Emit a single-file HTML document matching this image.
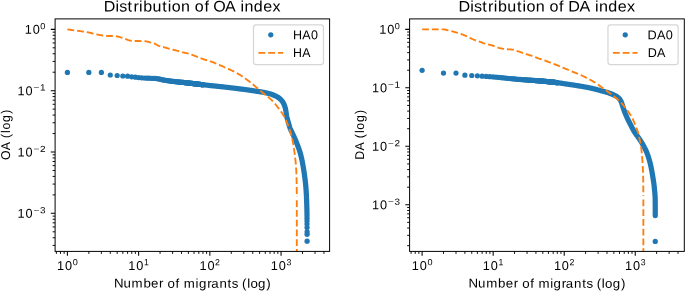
<!DOCTYPE html>
<html><head><meta charset="utf-8"><title>Distribution of OA and DA index</title>
<style>
html,body{margin:0;padding:0;background:#fff;}
body{width:685px;height:291px;overflow:hidden;font-family:"Liberation Sans",sans-serif;}
svg{display:block;will-change:transform;}
svg text{font-family:"Liberation Sans",sans-serif;fill:#000;text-rendering:geometricPrecision;}
</style></head><body>
<svg width="685" height="291" viewBox="0 0 685 291">
<rect width="685" height="291" fill="#fff"/>
<g>
<clipPath id="cp0"><rect x="55.10" y="18.90" width="274.50" height="232.50"/></clipPath>
<path d="M67.40 251.40v4.32M138.62 251.40v4.32M209.84 251.40v4.32M281.06 251.40v4.32M55.10 213.34h-4.32M55.10 152.01h-4.32M55.10 90.68h-4.32M55.10 29.35h-4.32" stroke="#000" stroke-width="1.05" fill="none"/>
<path d="M56.37 251.40v2.47M60.50 251.40v2.47M64.14 251.40v2.47M88.84 251.40v2.47M101.38 251.40v2.47M110.28 251.40v2.47M117.18 251.40v2.47M122.82 251.40v2.47M127.59 251.40v2.47M131.72 251.40v2.47M135.36 251.40v2.47M160.06 251.40v2.47M172.60 251.40v2.47M181.50 251.40v2.47M188.40 251.40v2.47M194.04 251.40v2.47M198.81 251.40v2.47M202.94 251.40v2.47M206.58 251.40v2.47M231.28 251.40v2.47M243.82 251.40v2.47M252.72 251.40v2.47M259.62 251.40v2.47M265.26 251.40v2.47M270.03 251.40v2.47M274.16 251.40v2.47M277.80 251.40v2.47M302.50 251.40v2.47M315.04 251.40v2.47M323.94 251.40v2.47M55.10 245.41h-2.47M55.10 237.75h-2.47M55.10 231.80h-2.47M55.10 226.95h-2.47M55.10 222.84h-2.47M55.10 219.28h-2.47M55.10 216.15h-2.47M55.10 194.88h-2.47M55.10 184.08h-2.47M55.10 176.42h-2.47M55.10 170.47h-2.47M55.10 165.62h-2.47M55.10 161.51h-2.47M55.10 157.95h-2.47M55.10 154.82h-2.47M55.10 133.55h-2.47M55.10 122.75h-2.47M55.10 115.09h-2.47M55.10 109.14h-2.47M55.10 104.29h-2.47M55.10 100.18h-2.47M55.10 96.62h-2.47M55.10 93.49h-2.47M55.10 72.22h-2.47M55.10 61.42h-2.47M55.10 53.76h-2.47M55.10 47.81h-2.47M55.10 42.96h-2.47M55.10 38.85h-2.47M55.10 35.29h-2.47M55.10 32.16h-2.47" stroke="#000" stroke-width="0.95" fill="none"/>
<g clip-path="url(#cp0)">
<circle cx="67.40" cy="72.40" r="2.62" fill="#1f77b4"/>
<circle cx="88.84" cy="72.40" r="2.62" fill="#1f77b4"/>
<circle cx="101.38" cy="72.40" r="2.62" fill="#1f77b4"/>
<circle cx="110.28" cy="75.00" r="2.62" fill="#1f77b4"/>
<circle cx="117.18" cy="75.50" r="2.62" fill="#1f77b4"/>
<circle cx="122.82" cy="76.00" r="2.62" fill="#1f77b4"/>
<circle cx="127.59" cy="76.20" r="2.62" fill="#1f77b4"/>
<circle cx="131.72" cy="76.80" r="2.62" fill="#1f77b4"/>
<circle cx="135.36" cy="77.20" r="2.62" fill="#1f77b4"/>
<circle cx="138.62" cy="77.57" r="2.62" fill="#1f77b4"/>
<circle cx="141.57" cy="77.83" r="2.62" fill="#1f77b4"/>
<circle cx="144.26" cy="78.00" r="2.62" fill="#1f77b4"/>
<circle cx="146.74" cy="78.14" r="2.62" fill="#1f77b4"/>
<circle cx="149.03" cy="78.24" r="2.62" fill="#1f77b4"/>
<circle cx="151.16" cy="78.31" r="2.62" fill="#1f77b4"/>
<circle cx="153.16" cy="78.37" r="2.62" fill="#1f77b4"/>
<circle cx="155.03" cy="78.46" r="2.62" fill="#1f77b4"/>
<circle cx="156.80" cy="78.62" r="2.62" fill="#1f77b4"/>
<circle cx="158.47" cy="78.90" r="2.62" fill="#1f77b4"/>
<circle cx="160.06" cy="79.23" r="2.62" fill="#1f77b4"/>
<circle cx="161.57" cy="79.60" r="2.62" fill="#1f77b4"/>
<circle cx="163.01" cy="79.89" r="2.62" fill="#1f77b4"/>
<circle cx="164.38" cy="80.13" r="2.62" fill="#1f77b4"/>
<circle cx="165.70" cy="80.35" r="2.62" fill="#1f77b4"/>
<circle cx="166.96" cy="80.55" r="2.62" fill="#1f77b4"/>
<circle cx="168.17" cy="80.74" r="2.62" fill="#1f77b4"/>
<circle cx="169.34" cy="80.91" r="2.62" fill="#1f77b4"/>
<circle cx="170.47" cy="81.06" r="2.62" fill="#1f77b4"/>
<circle cx="171.55" cy="81.20" r="2.62" fill="#1f77b4"/>
<circle cx="172.60" cy="81.32" r="2.62" fill="#1f77b4"/>
<circle cx="173.61" cy="81.44" r="2.62" fill="#1f77b4"/>
<circle cx="174.60" cy="81.55" r="2.62" fill="#1f77b4"/>
<circle cx="175.55" cy="81.65" r="2.62" fill="#1f77b4"/>
<circle cx="176.47" cy="81.75" r="2.62" fill="#1f77b4"/>
<circle cx="177.37" cy="81.84" r="2.62" fill="#1f77b4"/>
<circle cx="178.24" cy="81.93" r="2.62" fill="#1f77b4"/>
<circle cx="179.09" cy="82.02" r="2.62" fill="#1f77b4"/>
<circle cx="179.91" cy="82.10" r="2.62" fill="#1f77b4"/>
<circle cx="180.72" cy="82.18" r="2.62" fill="#1f77b4"/>
<circle cx="181.50" cy="82.26" r="2.62" fill="#1f77b4"/>
<circle cx="182.26" cy="82.34" r="2.62" fill="#1f77b4"/>
<circle cx="183.01" cy="82.42" r="2.62" fill="#1f77b4"/>
<circle cx="183.74" cy="82.50" r="2.62" fill="#1f77b4"/>
<circle cx="184.45" cy="82.57" r="2.62" fill="#1f77b4"/>
<circle cx="185.14" cy="82.65" r="2.62" fill="#1f77b4"/>
<circle cx="185.82" cy="82.73" r="2.62" fill="#1f77b4"/>
<circle cx="186.49" cy="82.80" r="2.62" fill="#1f77b4"/>
<circle cx="187.14" cy="82.87" r="2.62" fill="#1f77b4"/>
<circle cx="187.78" cy="82.95" r="2.62" fill="#1f77b4"/>
<circle cx="188.40" cy="83.02" r="2.62" fill="#1f77b4"/>
<circle cx="189.01" cy="83.09" r="2.62" fill="#1f77b4"/>
<circle cx="189.61" cy="83.16" r="2.62" fill="#1f77b4"/>
<circle cx="190.20" cy="83.23" r="2.62" fill="#1f77b4"/>
<circle cx="190.78" cy="83.30" r="2.62" fill="#1f77b4"/>
<circle cx="191.35" cy="83.36" r="2.62" fill="#1f77b4"/>
<circle cx="191.91" cy="83.43" r="2.62" fill="#1f77b4"/>
<circle cx="192.45" cy="83.49" r="2.62" fill="#1f77b4"/>
<circle cx="192.99" cy="83.56" r="2.62" fill="#1f77b4"/>
<circle cx="193.52" cy="83.62" r="2.62" fill="#1f77b4"/>
<circle cx="194.04" cy="83.68" r="2.62" fill="#1f77b4"/>
<circle cx="194.55" cy="83.74" r="2.62" fill="#1f77b4"/>
<circle cx="195.05" cy="83.80" r="2.62" fill="#1f77b4"/>
<circle cx="195.55" cy="83.86" r="2.62" fill="#1f77b4"/>
<circle cx="196.04" cy="83.92" r="2.62" fill="#1f77b4"/>
<circle cx="196.52" cy="83.98" r="2.62" fill="#1f77b4"/>
<circle cx="196.99" cy="84.03" r="2.62" fill="#1f77b4"/>
<circle cx="197.45" cy="84.09" r="2.62" fill="#1f77b4"/>
<circle cx="197.91" cy="84.14" r="2.62" fill="#1f77b4"/>
<circle cx="198.36" cy="84.20" r="2.62" fill="#1f77b4"/>
<circle cx="198.81" cy="84.25" r="2.62" fill="#1f77b4"/>
<circle cx="199.25" cy="84.30" r="2.62" fill="#1f77b4"/>
<circle cx="199.68" cy="84.35" r="2.62" fill="#1f77b4"/>
<circle cx="200.11" cy="84.40" r="2.62" fill="#1f77b4"/>
<circle cx="200.53" cy="84.45" r="2.62" fill="#1f77b4"/>
<circle cx="200.94" cy="84.50" r="2.62" fill="#1f77b4"/>
<circle cx="201.35" cy="84.55" r="2.62" fill="#1f77b4"/>
<circle cx="201.76" cy="84.59" r="2.62" fill="#1f77b4"/>
<circle cx="202.15" cy="84.64" r="2.62" fill="#1f77b4"/>
<circle cx="202.55" cy="84.69" r="2.62" fill="#1f77b4"/>
<circle cx="202.94" cy="84.73" r="2.62" fill="#1f77b4"/>
<path d="M181.86 82.30 L182.55 82.37 L183.25 82.44 L183.95 82.52 L184.64 82.59 L185.34 82.67 L186.03 82.75 L186.73 82.83 L187.42 82.91 L188.12 82.99 L188.81 83.07 L189.51 83.15 L190.21 83.23 L190.90 83.31 L191.60 83.39 L192.29 83.47 L192.99 83.56 L193.68 83.64 L194.38 83.72 L195.07 83.80 L195.77 83.89 L196.46 83.97 L197.16 84.05 L197.85 84.14 L198.55 84.22 L199.24 84.30 L199.94 84.38 L200.63 84.46 L201.33 84.54 L202.02 84.62 L202.72 84.71 L203.41 84.79 L204.11 84.86 L204.81 84.94 L205.50 85.02 L206.20 85.10 L206.89 85.18 L207.59 85.25 L208.28 85.33 L208.98 85.40 L209.68 85.48 L210.37 85.55 L211.07 85.62 L211.76 85.70 L212.46 85.77 L213.16 85.84 L213.85 85.91 L214.55 85.98 L215.25 86.05 L215.94 86.13 L216.64 86.20 L217.34 86.27 L218.03 86.34 L218.73 86.41 L219.42 86.49 L220.12 86.56 L220.82 86.63 L221.51 86.71 L222.21 86.78 L222.90 86.85 L223.60 86.93 L224.30 87.01 L224.99 87.08 L225.69 87.16 L226.38 87.24 L227.08 87.32 L227.77 87.40 L228.47 87.49 L229.16 87.57 L229.86 87.65 L230.55 87.74 L231.25 87.83 L231.94 87.92 L232.64 88.00 L233.33 88.09 L234.03 88.18 L234.72 88.27 L235.42 88.35 L236.11 88.44 L236.80 88.52 L237.50 88.61 L238.19 88.69 L238.89 88.78 L239.58 88.87 L240.28 88.95 L240.97 89.04 L241.67 89.13 L242.36 89.21 L243.06 89.30 L243.75 89.39 L244.44 89.49 L245.14 89.58 L245.83 89.67 L246.53 89.77 L247.22 89.86 L247.91 89.96 L248.60 90.06 L249.30 90.16 L249.99 90.26 L250.68 90.36 L251.38 90.46 L252.07 90.56 L252.76 90.67 L253.45 90.77 L254.15 90.88 L254.84 90.98 L255.53 91.09 L256.22 91.20 L256.91 91.30 L257.61 91.40 L258.30 91.50 L259.00 91.61 L259.69 91.71 L260.38 91.82 L261.08 91.92 L261.77 92.03 L262.46 92.15 L263.15 92.27 L263.84 92.39 L264.52 92.52 L265.21 92.65 L265.89 92.80 L266.57 92.95 L267.25 93.11 L267.93 93.28 L268.61 93.46 L269.29 93.65 L269.97 93.85 L270.64 94.06 L271.31 94.28 L271.97 94.51 L272.62 94.74 L273.27 94.99 L273.92 95.25 L274.57 95.52 L275.22 95.81 L275.87 96.12 L276.50 96.44 L277.13 96.78 L277.73 97.14 L278.31 97.51 L278.87 97.90 L279.40 98.31 L279.93 98.76 L280.46 99.24 L280.97 99.75 L281.46 100.28 L281.93 100.83 L282.37 101.40 L282.76 101.97 L283.12 102.55 L283.43 103.14 L283.73 103.76 L284.02 104.39 L284.28 105.05 L284.53 105.71 L284.77 106.39 L284.98 107.07 L285.18 107.75 L285.36 108.44 L285.53 109.11 L285.67 109.79 L285.80 110.48 L285.92 111.17 L286.02 111.86 L286.12 112.55 L286.22 113.25 L286.33 113.95 L286.44 114.64 L286.55 115.33 L286.68 116.02 L286.83 116.70 L286.98 117.38 L287.15 118.06 L287.32 118.74 L287.50 119.42 L287.68 120.10 L287.87 120.77 L288.06 121.45 L288.25 122.12 L288.44 122.79 L288.63 123.47 L288.82 124.14 L289.01 124.82 L289.21 125.49 L289.41 126.17 L289.62 126.83 L289.84 127.50 L290.07 128.15 L290.32 128.80 L290.60 129.44 L290.90 130.08 L291.22 130.70 L291.53 131.33 L291.83 131.96 L292.13 132.60 L292.42 133.23 L292.72 133.87 L293.01 134.50 L293.31 135.14 L293.60 135.78 L293.89 136.41 L294.18 137.05 L294.46 137.69 L294.74 138.33 L295.02 138.97 L295.29 139.62 L295.56 140.26 L295.84 140.91 L296.10 141.56 L296.37 142.20 L296.63 142.85 L296.89 143.50 L297.15 144.15 L297.40 144.81 L297.65 145.46 L297.89 146.12 L298.14 146.77 L298.38 147.43 L298.63 148.09 L298.86 148.75 L299.10 149.41 L299.33 150.07 L299.55 150.73 L299.77 151.40 L299.97 152.07 L300.17 152.74 L300.36 153.41 L300.54 154.08 L300.72 154.76 L300.90 155.44 L301.07 156.12 L301.23 156.80 L301.39 157.48 L301.55 158.16 L301.70 158.85 L301.85 159.53 L301.99 160.22 L302.13 160.90 L302.27 161.59 L302.40 162.28 L302.53 162.96 L302.66 163.65 L302.78 164.34 L302.91 165.03 L303.03 165.72 L303.15 166.41 L303.27 167.10 L303.38 167.79 L303.50 168.48 L303.61 169.17 L303.73 169.86 L303.84 170.55 L303.94 171.25 L304.05 171.94 L304.15 172.63 L304.25 173.32 L304.34 174.02 L304.44 174.71 L304.53 175.40 L304.63 176.10 L304.72 176.79 L304.81 177.49 L304.90 178.18 L304.99 178.88 L305.08 179.57 L305.17 180.27 L305.25 180.96 L305.33 181.66 L305.41 182.35 L305.49 183.05 L305.56 183.74 L305.63 184.44 L305.70 185.14 L305.76 185.83 L305.82 186.53 L305.88 187.23 L305.93 187.93 L305.98 188.62 L306.03 189.32 L306.08 190.02 L306.13 190.72 L306.17 191.42 L306.22 192.11 L306.26 192.81 L306.30 193.51 L306.34 194.21 L306.38 194.91 L306.41 195.61 L306.45 196.31 L306.48 197.01 L306.51 197.71 L306.54 198.41 L306.57 199.11 L306.59 199.81 L306.62 200.51 L306.64 201.21 L306.67 201.91 L306.69 202.61 L306.71 203.31 L306.74 204.00 L306.76 204.70 L306.78 205.40 L306.80 206.10 L306.82 206.80 L306.84 207.50 L306.86 208.20 L306.88 208.90 L306.90 209.60 L306.91 210.30 L306.93 211.00 L306.94 211.70 L306.95 212.40 L306.97 213.10 L306.98 213.80 L306.99 214.50 L306.99 215.20 L307.00 215.90 L307.00 216.00" stroke="#1f77b4" stroke-width="5.24" fill="none" stroke-linecap="round" stroke-linejoin="round"/>
<circle cx="307.00" cy="218.50" r="2.62" fill="#1f77b4"/>
<circle cx="307.00" cy="221.00" r="2.62" fill="#1f77b4"/>
<circle cx="307.00" cy="224.00" r="2.62" fill="#1f77b4"/>
<circle cx="307.05" cy="227.60" r="2.62" fill="#1f77b4"/>
<circle cx="307.10" cy="231.80" r="2.62" fill="#1f77b4"/>
<circle cx="307.10" cy="234.30" r="2.62" fill="#1f77b4"/>
<circle cx="307.10" cy="241.20" r="2.62" fill="#1f77b4"/>
<path d="M67.40 29.40 L68.09 29.50 L68.79 29.59 L69.48 29.69 L70.17 29.78 L70.87 29.88 L71.56 29.98 L72.25 30.07 L72.95 30.17 L73.64 30.26 L74.33 30.36 L75.03 30.45 L75.72 30.55 L76.42 30.64 L77.11 30.73 L77.80 30.82 L78.50 30.92 L79.19 31.01 L79.88 31.10 L80.58 31.20 L81.27 31.30 L81.96 31.39 L82.66 31.49 L83.35 31.60 L84.04 31.70 L84.73 31.81 L85.43 31.92 L86.12 32.03 L86.81 32.14 L87.50 32.26 L88.19 32.38 L88.87 32.51 L89.56 32.66 L90.24 32.81 L90.92 32.98 L91.60 33.14 L92.28 33.31 L92.96 33.48 L93.64 33.63 L94.33 33.79 L95.01 33.95 L95.69 34.12 L96.37 34.28 L97.05 34.44 L97.74 34.60 L98.42 34.76 L99.11 34.90 L99.79 35.04 L100.48 35.17 L101.17 35.28 L101.86 35.38 L102.55 35.49 L103.24 35.59 L103.94 35.68 L104.64 35.76 L105.33 35.83 L106.03 35.88 L106.73 35.91 L107.43 35.94 L108.13 35.96 L108.83 35.97 L109.53 35.99 L110.23 36.00 L110.93 36.01 L111.63 36.02 L112.33 36.03 L113.03 36.05 L113.73 36.07 L114.43 36.12 L115.13 36.17 L115.83 36.24 L116.52 36.32 L117.21 36.42 L117.89 36.55 L118.57 36.74 L119.25 36.94 L119.92 37.13 L120.59 37.33 L121.26 37.52 L121.93 37.73 L122.60 37.94 L123.27 38.15 L123.93 38.37 L124.60 38.59 L125.26 38.82 L125.91 39.07 L126.56 39.34 L127.20 39.63 L127.84 39.90 L128.50 40.15 L129.16 40.37 L129.84 40.52 L130.53 40.64 L131.23 40.75 L131.92 40.82 L132.62 40.89 L133.32 40.95 L134.02 40.99 L134.72 41.00 L135.42 41.01 L136.12 41.02 L136.82 41.02 L137.52 41.03 L138.22 41.03 L138.92 41.03 L139.62 41.04 L140.32 41.05 L141.02 41.06 L141.72 41.07 L142.42 41.10 L143.13 41.13 L143.83 41.16 L144.53 41.21 L145.22 41.25 L145.91 41.31 L146.59 41.41 L147.27 41.56 L147.95 41.75 L148.62 41.96 L149.30 42.17 L149.97 42.38 L150.65 42.56 L151.33 42.73 L152.02 42.90 L152.70 43.07 L153.38 43.25 L154.05 43.45 L154.70 43.67 L155.33 43.96 L155.94 44.30 L156.55 44.67 L157.16 45.04 L157.77 45.39 L158.40 45.68 L159.05 45.92 L159.71 46.12 L160.39 46.29 L161.07 46.46 L161.76 46.62 L162.44 46.78 L163.12 46.95 L163.80 47.14 L164.47 47.34 L165.14 47.54 L165.81 47.75 L166.48 47.95 L167.15 48.16 L167.82 48.35 L168.49 48.54 L169.17 48.72 L169.85 48.90 L170.53 49.07 L171.20 49.25 L171.88 49.42 L172.56 49.59 L173.24 49.76 L173.92 49.92 L174.60 50.08 L175.28 50.25 L175.96 50.41 L176.64 50.58 L177.32 50.77 L177.99 50.96 L178.66 51.16 L179.33 51.37 L180.00 51.57 L180.67 51.77 L181.35 51.95 L182.02 52.13 L182.70 52.29 L183.39 52.45 L184.07 52.59 L184.76 52.74 L185.44 52.88 L186.13 53.04 L186.81 53.20 L187.48 53.38 L188.16 53.56 L188.83 53.76 L189.50 53.97 L190.16 54.18 L190.83 54.40 L191.49 54.63 L192.15 54.86 L192.82 55.09 L193.47 55.33 L194.13 55.57 L194.78 55.82 L195.43 56.08 L196.08 56.35 L196.73 56.62 L197.37 56.89 L198.02 57.17 L198.66 57.44 L199.31 57.71 L199.96 57.97 L200.61 58.23 L201.26 58.48 L201.92 58.71 L202.58 58.94 L203.24 59.16 L203.91 59.38 L204.58 59.59 L205.25 59.80 L205.92 60.00 L206.59 60.21 L207.26 60.41 L207.93 60.62 L208.60 60.83 L209.26 61.04 L209.93 61.26 L210.59 61.49 L211.25 61.72 L211.90 61.96 L212.56 62.21 L213.21 62.46 L213.86 62.71 L214.52 62.97 L215.17 63.23 L215.82 63.49 L216.46 63.75 L217.11 64.02 L217.76 64.29 L218.41 64.56 L219.05 64.83 L219.70 65.10 L220.34 65.37 L220.99 65.65 L221.63 65.92 L222.27 66.20 L222.91 66.48 L223.55 66.77 L224.19 67.05 L224.83 67.34 L225.47 67.62 L226.11 67.91 L226.74 68.20 L227.38 68.49 L228.02 68.78 L228.66 69.07 L229.30 69.35 L229.94 69.64 L230.58 69.93 L231.22 70.22 L231.86 70.51 L232.49 70.80 L233.12 71.10 L233.75 71.41 L234.38 71.72 L235.00 72.03 L235.62 72.36 L236.23 72.69 L236.84 73.03 L237.45 73.38 L238.05 73.74 L238.65 74.10 L239.25 74.46 L239.84 74.84 L240.44 75.21 L241.03 75.60 L241.61 75.98 L242.20 76.36 L242.78 76.75 L243.36 77.14 L243.93 77.54 L244.51 77.94 L245.08 78.34 L245.65 78.75 L246.22 79.16 L246.79 79.57 L247.35 79.99 L247.91 80.41 L248.47 80.83 L249.03 81.25 L249.58 81.68 L250.13 82.11 L250.68 82.54 L251.23 82.98 L251.77 83.42 L252.31 83.87 L252.84 84.32 L253.37 84.78 L253.90 85.24 L254.43 85.70 L254.96 86.16 L255.48 86.62 L256.01 87.08 L256.54 87.55 L257.07 88.01 L257.60 88.46 L258.13 88.92 L258.66 89.37 L259.20 89.82 L259.74 90.26 L260.28 90.71 L260.82 91.15 L261.36 91.60 L261.91 92.04 L262.45 92.48 L262.99 92.92 L263.54 93.36 L264.08 93.81 L264.62 94.25 L265.16 94.69 L265.70 95.14 L266.24 95.58 L266.79 96.02 L267.34 96.46 L267.89 96.89 L268.45 97.33 L269.00 97.77 L269.54 98.21 L270.08 98.66 L270.61 99.11 L271.13 99.57 L271.64 100.05 L272.13 100.53 L272.62 101.03 L273.09 101.54 L273.56 102.05 L274.03 102.57 L274.49 103.10 L274.94 103.64 L275.39 104.18 L275.83 104.73 L276.27 105.28 L276.71 105.84 L277.14 106.39 L277.56 106.95 L277.99 107.51 L278.41 108.07 L278.82 108.63 L279.24 109.19 L279.66 109.76 L280.07 110.32 L280.49 110.89 L280.90 111.46 L281.30 112.04 L281.71 112.61 L282.10 113.20 L282.49 113.78 L282.87 114.37 L283.24 114.96 L283.60 115.56 L283.95 116.16 L284.28 116.77 L284.61 117.38 L284.92 118.00 L285.23 118.63 L285.53 119.26 L285.82 119.90 L286.10 120.54 L286.38 121.19 L286.66 121.84 L286.93 122.49 L287.19 123.14 L287.45 123.79 L287.71 124.44 L287.97 125.09 L288.23 125.74 L288.48 126.39 L288.73 127.05 L288.98 127.70 L289.22 128.36 L289.45 129.02 L289.68 129.68 L289.91 130.35 L290.12 131.01 L290.33 131.68 L290.54 132.35 L290.73 133.02 L290.93 133.69 L291.12 134.37 L291.30 135.04 L291.48 135.72 L291.66 136.40 L291.82 137.08 L291.99 137.76 L292.14 138.44 L292.29 139.12 L292.44 139.81 L292.58 140.49 L292.71 141.18 L292.85 141.87 L292.97 142.56 L293.10 143.25 L293.22 143.94 L293.34 144.63 L293.45 145.32 L293.57 146.01 L293.68 146.70 L293.78 147.39 L293.89 148.08 L293.99 148.78 L294.09 149.47 L294.19 150.16 L294.28 150.86 L294.37 151.55 L294.47 152.24 L294.56 152.94 L294.64 153.63 L294.73 154.33 L294.81 155.02 L294.89 155.72 L294.98 156.41 L295.05 157.11 L295.13 157.80 L295.21 158.50 L295.29 159.19 L295.37 159.89 L295.45 160.59 L295.53 161.28 L295.61 161.98 L295.68 162.67 L295.75 163.37 L295.82 164.07 L295.88 164.76 L295.93 165.46 L295.99 166.16 L296.04 166.86 L296.08 167.56 L296.13 168.25 L296.17 168.95 L296.21 169.65 L296.25 170.35 L296.29 171.05 L296.32 171.75 L296.35 172.45 L296.38 173.15 L296.40 173.85 L296.43 174.55 L296.45 175.25 L296.47 175.95 L296.49 176.65 L296.51 177.35 L296.53 178.05 L296.54 178.75 L296.56 179.45 L296.58 180.15 L296.59 180.85 L296.61 181.55 L296.62 182.25 L296.63 182.95 L296.64 183.65 L296.66 184.35 L296.67 185.05 L296.68 185.75 L296.69 186.45 L296.70 187.14 L296.70 187.84 L296.71 188.54 L296.72 189.24 L296.73 189.94 L296.74 190.64 L296.74 191.34 L296.75 192.04 L296.76 192.74 L296.76 193.44 L296.77 194.14 L296.77 194.84 L296.78 195.54 L296.78 196.24 L296.79 196.94" stroke="#ff7f0e" stroke-width="1.85" fill="none" stroke-dasharray="6.84 2.96" stroke-linejoin="round"/>
<path d="M296.80 200.15V251.40" stroke="#ff7f0e" stroke-width="1.85" fill="none" stroke-dasharray="6.80 2.95"/>
</g>
<rect x="55.10" y="18.90" width="274.50" height="232.50" fill="none" stroke="#000" stroke-width="0.99"/>
<rect x="253.50" y="24.76" width="69.94" height="39.80" rx="2.5" ry="2.5" fill="#fff" fill-opacity="0.8" stroke="#ccc" stroke-opacity="0.8" stroke-width="1.23"/>
<circle cx="270.76" cy="34.86" r="2.62" fill="#1f77b4"/>
<path d="M258.43 52.86H283.09" stroke="#ff7f0e" stroke-width="1.85" stroke-dasharray="6.84 2.96"/>
<text transform="translate(292.95 39.27) rotate(0.03) scale(0.9820 1)" x="0.11 9.48 18.47" y="0" font-size="12.76">HA0</text>
<text transform="translate(292.95 57.06) rotate(0.03) scale(0.9677 1)" x="0.18 9.68" y="0" font-size="12.76">HA</text>
<text transform="translate(103.75 11.40) rotate(0.03) scale(1.0478 1)" x="-0.08 11.14 14.75 22.76 28.30 33.76 37.73 46.57 55.94 61.14 64.86 73.68 82.38 86.94 96.05 100.48 104.58 115.81 125.75 130.50 134.41 143.25 152.19 161.08" y="0" font-size="15.31">Distribution of OA index</text>
<text transform="translate(114.07 287.60) rotate(0.03) scale(1.0401 1)" x="-0.18 9.05 16.87 28.21 35.57 43.28 47.62 51.47 59.10 62.81 67.07 78.36 81.57 89.48 93.45 101.32 109.12 113.23 119.42 123.05 128.04 131.19 138.51 146.40" y="0" font-size="12.76">Number of migrants (log)</text>
<text transform="translate(9.85 160.19) rotate(-90) scale(0.9614 1)" x="0.09 10.22 18.87 23.00 28.31 31.89 39.79 48.19" y="0" font-size="12.76">OA (log)</text>
<text transform="translate(56.81 269.95) rotate(0.03) scale(0.9968 1)" x="0.32 8.25" y="0" font-size="12.76">10</text>
<text transform="translate(72.50 265.35) rotate(0.03) scale(1.0185 1)" x="0.21" y="0" font-size="8.93">0</text>
<text transform="translate(128.03 269.95) rotate(0.03) scale(0.9968 1)" x="0.32 8.25" y="0" font-size="12.76">10</text>
<text transform="translate(143.72 265.35) rotate(0.03) scale(0.9727 1)" x="0.29" y="0" font-size="8.93">1</text>
<text transform="translate(199.25 269.95) rotate(0.03) scale(0.9968 1)" x="0.32 8.25" y="0" font-size="12.76">10</text>
<text transform="translate(214.94 265.35) rotate(0.03) scale(0.9817 1)" x="0.19" y="0" font-size="8.93">2</text>
<text transform="translate(270.47 269.95) rotate(0.03) scale(0.9968 1)" x="0.32 8.25" y="0" font-size="12.76">10</text>
<text transform="translate(286.16 265.35) rotate(0.03) scale(0.9781 1)" x="0.33" y="0" font-size="8.93">3</text>
<text transform="translate(24.42 33.85) rotate(0.03) scale(0.9968 1)" x="0.32 8.25" y="0" font-size="12.76">10</text>
<text transform="translate(40.11 29.25) rotate(0.03) scale(1.0185 1)" x="0.21" y="0" font-size="8.93">0</text>
<text transform="translate(17.19 95.18) rotate(0.03) scale(0.9968 1)" x="0.32 8.25" y="0" font-size="12.76">10</text>
<text transform="translate(32.88 90.58) rotate(0.03) scale(1.1169 1)" x="0.63 6.39" y="0" font-size="8.93">−1</text>
<text transform="translate(17.19 156.51) rotate(0.03) scale(0.9968 1)" x="0.32 8.25" y="0" font-size="12.76">10</text>
<text transform="translate(32.88 151.91) rotate(0.03) scale(1.1175 1)" x="0.63 6.34" y="0" font-size="8.93">−2</text>
<text transform="translate(17.19 217.84) rotate(0.03) scale(0.9968 1)" x="0.32 8.25" y="0" font-size="12.76">10</text>
<text transform="translate(32.88 213.24) rotate(0.03) scale(1.1131 1)" x="0.64 6.49" y="0" font-size="8.93">−3</text>
</g>
<g>
<clipPath id="cp1"><rect x="409.60" y="18.90" width="274.70" height="232.50"/></clipPath>
<path d="M422.10 251.40v4.32M493.15 251.40v4.32M564.20 251.40v4.32M635.25 251.40v4.32M409.60 204.79h-4.32M409.60 146.31h-4.32M409.60 87.83h-4.32M409.60 29.35h-4.32" stroke="#000" stroke-width="1.05" fill="none"/>
<path d="M411.09 251.40v2.47M415.21 251.40v2.47M418.85 251.40v2.47M443.49 251.40v2.47M456.00 251.40v2.47M464.88 251.40v2.47M471.76 251.40v2.47M477.39 251.40v2.47M482.14 251.40v2.47M486.26 251.40v2.47M489.90 251.40v2.47M514.54 251.40v2.47M527.05 251.40v2.47M535.93 251.40v2.47M542.81 251.40v2.47M548.44 251.40v2.47M553.19 251.40v2.47M557.31 251.40v2.47M560.95 251.40v2.47M585.59 251.40v2.47M598.10 251.40v2.47M606.98 251.40v2.47M613.86 251.40v2.47M619.49 251.40v2.47M624.24 251.40v2.47M628.36 251.40v2.47M632.00 251.40v2.47M656.64 251.40v2.47M669.15 251.40v2.47M678.03 251.40v2.47M409.60 245.67h-2.47M409.60 235.37h-2.47M409.60 228.06h-2.47M409.60 222.39h-2.47M409.60 217.76h-2.47M409.60 213.85h-2.47M409.60 210.46h-2.47M409.60 207.47h-2.47M409.60 187.19h-2.47M409.60 176.89h-2.47M409.60 169.58h-2.47M409.60 163.91h-2.47M409.60 159.28h-2.47M409.60 155.37h-2.47M409.60 151.98h-2.47M409.60 148.99h-2.47M409.60 128.71h-2.47M409.60 118.41h-2.47M409.60 111.10h-2.47M409.60 105.43h-2.47M409.60 100.80h-2.47M409.60 96.89h-2.47M409.60 93.50h-2.47M409.60 90.51h-2.47M409.60 70.23h-2.47M409.60 59.93h-2.47M409.60 52.62h-2.47M409.60 46.95h-2.47M409.60 42.32h-2.47M409.60 38.41h-2.47M409.60 35.02h-2.47M409.60 32.03h-2.47" stroke="#000" stroke-width="0.95" fill="none"/>
<g clip-path="url(#cp1)">
<circle cx="422.10" cy="70.30" r="2.62" fill="#1f77b4"/>
<circle cx="443.49" cy="73.10" r="2.62" fill="#1f77b4"/>
<circle cx="456.00" cy="73.10" r="2.62" fill="#1f77b4"/>
<circle cx="464.88" cy="75.15" r="2.62" fill="#1f77b4"/>
<circle cx="471.76" cy="75.50" r="2.62" fill="#1f77b4"/>
<circle cx="477.39" cy="75.80" r="2.62" fill="#1f77b4"/>
<circle cx="482.14" cy="76.20" r="2.62" fill="#1f77b4"/>
<circle cx="486.26" cy="76.45" r="2.62" fill="#1f77b4"/>
<circle cx="489.90" cy="76.65" r="2.62" fill="#1f77b4"/>
<circle cx="493.15" cy="76.92" r="2.62" fill="#1f77b4"/>
<circle cx="496.09" cy="77.17" r="2.62" fill="#1f77b4"/>
<circle cx="498.78" cy="77.42" r="2.62" fill="#1f77b4"/>
<circle cx="501.25" cy="77.66" r="2.62" fill="#1f77b4"/>
<circle cx="503.53" cy="77.88" r="2.62" fill="#1f77b4"/>
<circle cx="505.66" cy="78.10" r="2.62" fill="#1f77b4"/>
<circle cx="507.65" cy="78.31" r="2.62" fill="#1f77b4"/>
<circle cx="509.52" cy="78.50" r="2.62" fill="#1f77b4"/>
<circle cx="511.29" cy="78.68" r="2.62" fill="#1f77b4"/>
<circle cx="512.96" cy="78.84" r="2.62" fill="#1f77b4"/>
<circle cx="514.54" cy="78.99" r="2.62" fill="#1f77b4"/>
<circle cx="516.04" cy="79.13" r="2.62" fill="#1f77b4"/>
<circle cx="517.48" cy="79.26" r="2.62" fill="#1f77b4"/>
<circle cx="518.85" cy="79.37" r="2.62" fill="#1f77b4"/>
<circle cx="520.16" cy="79.47" r="2.62" fill="#1f77b4"/>
<circle cx="521.42" cy="79.57" r="2.62" fill="#1f77b4"/>
<circle cx="522.63" cy="79.66" r="2.62" fill="#1f77b4"/>
<circle cx="523.80" cy="79.74" r="2.62" fill="#1f77b4"/>
<circle cx="524.92" cy="79.82" r="2.62" fill="#1f77b4"/>
<circle cx="526.00" cy="79.89" r="2.62" fill="#1f77b4"/>
<circle cx="527.05" cy="79.96" r="2.62" fill="#1f77b4"/>
<circle cx="528.06" cy="80.03" r="2.62" fill="#1f77b4"/>
<circle cx="529.04" cy="80.09" r="2.62" fill="#1f77b4"/>
<circle cx="529.99" cy="80.16" r="2.62" fill="#1f77b4"/>
<circle cx="530.91" cy="80.22" r="2.62" fill="#1f77b4"/>
<circle cx="531.81" cy="80.28" r="2.62" fill="#1f77b4"/>
<circle cx="532.68" cy="80.34" r="2.62" fill="#1f77b4"/>
<circle cx="533.52" cy="80.40" r="2.62" fill="#1f77b4"/>
<circle cx="534.34" cy="80.46" r="2.62" fill="#1f77b4"/>
<circle cx="535.15" cy="80.52" r="2.62" fill="#1f77b4"/>
<circle cx="535.93" cy="80.58" r="2.62" fill="#1f77b4"/>
<circle cx="536.69" cy="80.64" r="2.62" fill="#1f77b4"/>
<circle cx="537.43" cy="80.70" r="2.62" fill="#1f77b4"/>
<circle cx="538.16" cy="80.76" r="2.62" fill="#1f77b4"/>
<circle cx="538.87" cy="80.81" r="2.62" fill="#1f77b4"/>
<circle cx="539.56" cy="80.87" r="2.62" fill="#1f77b4"/>
<circle cx="540.24" cy="80.93" r="2.62" fill="#1f77b4"/>
<circle cx="540.90" cy="80.99" r="2.62" fill="#1f77b4"/>
<circle cx="541.55" cy="81.04" r="2.62" fill="#1f77b4"/>
<circle cx="542.19" cy="81.10" r="2.62" fill="#1f77b4"/>
<circle cx="542.81" cy="81.16" r="2.62" fill="#1f77b4"/>
<circle cx="543.42" cy="81.21" r="2.62" fill="#1f77b4"/>
<circle cx="544.02" cy="81.27" r="2.62" fill="#1f77b4"/>
<circle cx="544.61" cy="81.32" r="2.62" fill="#1f77b4"/>
<circle cx="545.19" cy="81.37" r="2.62" fill="#1f77b4"/>
<circle cx="545.75" cy="81.43" r="2.62" fill="#1f77b4"/>
<circle cx="546.31" cy="81.48" r="2.62" fill="#1f77b4"/>
<circle cx="546.85" cy="81.53" r="2.62" fill="#1f77b4"/>
<circle cx="547.39" cy="81.58" r="2.62" fill="#1f77b4"/>
<circle cx="547.92" cy="81.64" r="2.62" fill="#1f77b4"/>
<circle cx="548.44" cy="81.69" r="2.62" fill="#1f77b4"/>
<circle cx="548.95" cy="81.74" r="2.62" fill="#1f77b4"/>
<circle cx="549.45" cy="81.79" r="2.62" fill="#1f77b4"/>
<circle cx="549.94" cy="81.84" r="2.62" fill="#1f77b4"/>
<circle cx="550.43" cy="81.89" r="2.62" fill="#1f77b4"/>
<circle cx="550.91" cy="81.94" r="2.62" fill="#1f77b4"/>
<circle cx="551.38" cy="81.99" r="2.62" fill="#1f77b4"/>
<circle cx="551.84" cy="82.04" r="2.62" fill="#1f77b4"/>
<circle cx="552.30" cy="82.09" r="2.62" fill="#1f77b4"/>
<circle cx="552.75" cy="82.14" r="2.62" fill="#1f77b4"/>
<circle cx="553.19" cy="82.19" r="2.62" fill="#1f77b4"/>
<circle cx="553.63" cy="82.24" r="2.62" fill="#1f77b4"/>
<circle cx="554.06" cy="82.29" r="2.62" fill="#1f77b4"/>
<circle cx="554.49" cy="82.34" r="2.62" fill="#1f77b4"/>
<circle cx="554.91" cy="82.39" r="2.62" fill="#1f77b4"/>
<circle cx="555.32" cy="82.44" r="2.62" fill="#1f77b4"/>
<circle cx="555.73" cy="82.49" r="2.62" fill="#1f77b4"/>
<circle cx="556.14" cy="82.54" r="2.62" fill="#1f77b4"/>
<circle cx="556.53" cy="82.59" r="2.62" fill="#1f77b4"/>
<circle cx="556.93" cy="82.64" r="2.62" fill="#1f77b4"/>
<circle cx="557.31" cy="82.69" r="2.62" fill="#1f77b4"/>
<path d="M535.93 80.58 L536.63 80.63 L537.33 80.69 L538.02 80.74 L538.72 80.80 L539.42 80.86 L540.12 80.92 L540.81 80.98 L541.51 81.04 L542.21 81.10 L542.91 81.16 L543.60 81.23 L544.30 81.29 L545.00 81.36 L545.69 81.42 L546.39 81.49 L547.09 81.55 L547.79 81.62 L548.48 81.69 L549.18 81.76 L549.87 81.83 L550.57 81.91 L551.27 81.98 L551.96 82.06 L552.66 82.13 L553.35 82.21 L554.05 82.29 L554.74 82.37 L555.44 82.45 L556.13 82.54 L556.83 82.63 L557.52 82.72 L558.21 82.81 L558.91 82.91 L559.60 83.01 L560.29 83.11 L560.99 83.21 L561.68 83.32 L562.37 83.42 L563.06 83.52 L563.76 83.63 L564.45 83.73 L565.14 83.83 L565.83 83.93 L566.53 84.04 L567.22 84.14 L567.91 84.24 L568.60 84.34 L569.30 84.44 L569.99 84.54 L570.68 84.65 L571.38 84.75 L572.07 84.85 L572.76 84.96 L573.45 85.06 L574.14 85.17 L574.84 85.27 L575.53 85.38 L576.22 85.49 L576.91 85.60 L577.60 85.71 L578.29 85.82 L578.98 85.93 L579.67 86.05 L580.36 86.16 L581.05 86.28 L581.74 86.40 L582.44 86.51 L583.13 86.63 L583.82 86.75 L584.51 86.88 L585.19 87.00 L585.88 87.13 L586.57 87.25 L587.26 87.39 L587.95 87.52 L588.63 87.66 L589.32 87.79 L590.00 87.94 L590.69 88.08 L591.37 88.23 L592.05 88.39 L592.73 88.55 L593.41 88.71 L594.09 88.88 L594.77 89.05 L595.45 89.23 L596.13 89.40 L596.81 89.58 L597.48 89.76 L598.16 89.94 L598.84 90.12 L599.51 90.31 L600.19 90.49 L600.86 90.67 L601.54 90.85 L602.22 91.03 L602.89 91.22 L603.57 91.40 L604.25 91.59 L604.92 91.77 L605.60 91.97 L606.27 92.16 L606.94 92.37 L607.61 92.57 L608.27 92.79 L608.93 93.01 L609.59 93.24 L610.25 93.47 L610.92 93.72 L611.58 93.97 L612.23 94.22 L612.88 94.49 L613.52 94.78 L614.16 95.07 L614.77 95.38 L615.38 95.71 L616.00 96.06 L616.62 96.43 L617.22 96.82 L617.80 97.23 L618.34 97.67 L618.84 98.13 L619.29 98.63 L619.71 99.17 L620.11 99.76 L620.48 100.38 L620.82 101.01 L621.13 101.64 L621.40 102.27 L621.64 102.92 L621.86 103.58 L622.07 104.26 L622.27 104.93 L622.46 105.61 L622.67 106.29 L622.88 106.96 L623.11 107.62 L623.34 108.28 L623.58 108.94 L623.81 109.60 L624.05 110.26 L624.30 110.91 L624.54 111.57 L624.79 112.22 L625.05 112.87 L625.30 113.52 L625.57 114.17 L625.83 114.82 L626.10 115.47 L626.38 116.11 L626.65 116.75 L626.94 117.39 L627.22 118.03 L627.52 118.67 L627.82 119.30 L628.12 119.93 L628.43 120.56 L628.74 121.18 L629.06 121.81 L629.38 122.43 L629.70 123.05 L630.03 123.68 L630.35 124.30 L630.67 124.92 L630.98 125.54 L631.30 126.17 L631.62 126.80 L631.94 127.42 L632.26 128.05 L632.58 128.67 L632.91 129.29 L633.25 129.90 L633.59 130.51 L633.93 131.12 L634.29 131.72 L634.65 132.31 L635.04 132.89 L635.43 133.47 L635.84 134.04 L636.25 134.61 L636.66 135.17 L637.08 135.73 L637.50 136.30 L637.92 136.86 L638.33 137.43 L638.73 138.00 L639.12 138.58 L639.51 139.17 L639.89 139.76 L640.26 140.35 L640.64 140.94 L641.01 141.53 L641.38 142.13 L641.75 142.73 L642.11 143.33 L642.46 143.93 L642.81 144.54 L643.15 145.15 L643.49 145.76 L643.82 146.37 L644.15 146.99 L644.48 147.61 L644.81 148.23 L645.13 148.86 L645.44 149.49 L645.75 150.12 L646.05 150.75 L646.33 151.39 L646.61 152.03 L646.87 152.68 L647.12 153.33 L647.37 153.98 L647.61 154.64 L647.84 155.30 L648.06 155.96 L648.28 156.63 L648.49 157.30 L648.70 157.97 L648.90 158.64 L649.10 159.31 L649.30 159.98 L649.49 160.66 L649.68 161.33 L649.86 162.01 L650.04 162.69 L650.21 163.36 L650.38 164.04 L650.54 164.73 L650.69 165.41 L650.84 166.09 L650.99 166.77 L651.13 167.46 L651.27 168.15 L651.41 168.83 L651.55 169.52 L651.68 170.21 L651.81 170.90 L651.93 171.59 L652.05 172.28 L652.17 172.96 L652.29 173.65 L652.41 174.34 L652.52 175.03 L652.64 175.72 L652.76 176.42 L652.87 177.11 L652.98 177.80 L653.10 178.49 L653.21 179.18 L653.31 179.87 L653.42 180.57 L653.52 181.26 L653.63 181.95 L653.72 182.65 L653.82 183.34 L653.91 184.03 L654.00 184.73 L654.08 185.42 L654.16 186.12 L654.23 186.81 L654.30 187.51 L654.37 188.21 L654.44 188.90 L654.50 189.60 L654.57 190.30 L654.64 190.99 L654.71 191.69 L654.77 192.39 L654.83 193.09 L654.89 193.79 L654.95 194.48 L655.00 195.18 L655.05 195.88 L655.09 196.58 L655.12 197.28 L655.15 197.98 L655.18 198.68 L655.19 199.38 L655.20 200.08 L655.20 200.78 L655.21 201.48 L655.21 202.17 L655.22 202.87 L655.22 203.57 L655.22 204.27 L655.23 204.97 L655.23 205.67 L655.23 206.37 L655.23 207.07 L655.24 207.77 L655.24 208.47 L655.24 209.17 L655.24 209.87 L655.24 210.57 L655.25 211.27 L655.25 211.97 L655.25 212.67 L655.25 213.37 L655.25 214.08 L655.25 214.78 L655.25 215.48 L655.25 215.60" stroke="#1f77b4" stroke-width="5.24" fill="none" stroke-linecap="round" stroke-linejoin="round"/>
<circle cx="655.25" cy="241.40" r="2.62" fill="#1f77b4"/>
<path d="M422.10 29.40 L422.81 29.40 L423.52 29.40 L424.23 29.40 L424.94 29.40 L425.64 29.40 L426.35 29.40 L427.06 29.40 L427.76 29.40 L428.47 29.40 L429.17 29.40 L429.87 29.40 L430.57 29.40 L431.27 29.40 L431.97 29.40 L432.67 29.40 L433.37 29.40 L434.07 29.40 L434.77 29.40 L435.47 29.40 L436.16 29.40 L436.86 29.40 L437.56 29.40 L438.25 29.40 L438.95 29.40 L439.64 29.40 L440.33 29.40 L441.03 29.40 L441.72 29.40 L442.41 29.40 L443.10 29.40 L443.80 29.41 L444.49 29.47 L445.17 29.59 L445.86 29.75 L446.55 29.93 L447.23 30.11 L447.91 30.28 L448.60 30.44 L449.28 30.59 L449.96 30.76 L450.64 30.93 L451.32 31.10 L451.99 31.28 L452.67 31.46 L453.35 31.64 L454.02 31.83 L454.70 32.02 L455.37 32.21 L456.04 32.41 L456.71 32.61 L457.38 32.81 L458.05 33.02 L458.72 33.23 L459.39 33.45 L460.05 33.67 L460.72 33.89 L461.38 34.12 L462.04 34.35 L462.70 34.59 L463.35 34.83 L464.01 35.09 L464.65 35.34 L465.30 35.61 L465.93 35.89 L466.57 36.19 L467.19 36.50 L467.82 36.82 L468.44 37.15 L469.06 37.47 L469.69 37.79 L470.31 38.11 L470.95 38.41 L471.58 38.70 L472.22 38.98 L472.87 39.25 L473.51 39.52 L474.16 39.78 L474.82 40.04 L475.47 40.29 L476.13 40.53 L476.78 40.78 L477.44 41.01 L478.10 41.24 L478.77 41.46 L479.43 41.68 L480.10 41.89 L480.76 42.12 L481.42 42.36 L482.07 42.62 L482.72 42.89 L483.37 43.15 L484.03 43.38 L484.70 43.58 L485.37 43.76 L486.05 43.94 L486.73 44.10 L487.41 44.26 L488.09 44.41 L488.78 44.57 L489.46 44.73 L490.14 44.89 L490.82 45.07 L491.50 45.26 L492.16 45.46 L492.83 45.68 L493.49 45.92 L494.15 46.16 L494.81 46.41 L495.47 46.66 L496.13 46.91 L496.79 47.16 L497.45 47.40 L498.11 47.62 L498.77 47.83 L499.44 48.02 L500.12 48.19 L500.79 48.34 L501.48 48.47 L502.17 48.59 L502.86 48.71 L503.55 48.81 L504.25 48.91 L504.94 49.00 L505.64 49.08 L506.34 49.15 L507.04 49.22 L507.74 49.27 L508.44 49.32 L509.14 49.36 L509.84 49.41 L510.54 49.45 L511.24 49.51 L511.94 49.57 L512.62 49.65 L513.31 49.75 L513.98 49.89 L514.65 50.08 L515.32 50.29 L515.99 50.53 L516.65 50.78 L517.31 51.03 L517.98 51.26 L518.64 51.48 L519.30 51.71 L519.96 51.94 L520.62 52.17 L521.28 52.41 L521.94 52.64 L522.60 52.88 L523.26 53.12 L523.92 53.35 L524.58 53.58 L525.24 53.81 L525.90 54.04 L526.57 54.25 L527.24 54.46 L527.91 54.67 L528.58 54.87 L529.25 55.06 L529.92 55.26 L530.60 55.45 L531.27 55.65 L531.94 55.85 L532.61 56.07 L533.27 56.29 L533.93 56.52 L534.58 56.77 L535.23 57.04 L535.87 57.32 L536.51 57.60 L537.16 57.87 L537.81 58.14 L538.46 58.38 L539.12 58.60 L539.79 58.80 L540.47 58.99 L541.15 59.17 L541.82 59.36 L542.49 59.56 L543.15 59.79 L543.81 60.03 L544.46 60.28 L545.11 60.54 L545.76 60.81 L546.41 61.08 L547.05 61.35 L547.70 61.61 L548.36 61.86 L549.01 62.11 L549.67 62.35 L550.33 62.59 L550.99 62.83 L551.64 63.06 L552.30 63.30 L552.96 63.54 L553.62 63.78 L554.27 64.03 L554.93 64.28 L555.58 64.53 L556.23 64.79 L556.87 65.06 L557.52 65.33 L558.16 65.60 L558.81 65.88 L559.45 66.16 L560.09 66.44 L560.73 66.72 L561.38 67.00 L562.02 67.28 L562.66 67.55 L563.30 67.83 L563.95 68.10 L564.59 68.38 L565.24 68.65 L565.88 68.92 L566.53 69.20 L567.17 69.47 L567.82 69.74 L568.46 70.01 L569.11 70.29 L569.75 70.56 L570.40 70.83 L571.04 71.10 L571.69 71.37 L572.33 71.64 L572.98 71.91 L573.63 72.17 L574.28 72.43 L574.93 72.69 L575.58 72.95 L576.23 73.22 L576.88 73.48 L577.53 73.74 L578.17 74.01 L578.82 74.27 L579.47 74.55 L580.11 74.82 L580.75 75.10 L581.39 75.38 L582.03 75.67 L582.66 75.97 L583.30 76.26 L583.93 76.57 L584.56 76.87 L585.19 77.18 L585.81 77.49 L586.44 77.81 L587.06 78.13 L587.68 78.45 L588.30 78.78 L588.92 79.11 L589.54 79.44 L590.15 79.77 L590.77 80.11 L591.38 80.45 L591.99 80.80 L592.60 81.15 L593.20 81.50 L593.80 81.86 L594.40 82.22 L595.00 82.58 L595.59 82.96 L596.17 83.33 L596.76 83.72 L597.33 84.12 L597.91 84.52 L598.48 84.92 L599.04 85.33 L599.61 85.75 L600.18 86.16 L600.74 86.58 L601.31 86.99 L601.87 87.40 L602.44 87.81 L603.01 88.22 L603.58 88.63 L604.15 89.04 L604.72 89.44 L605.29 89.85 L605.86 90.26 L606.43 90.66 L607.00 91.07 L607.56 91.48 L608.13 91.90 L608.69 92.31 L609.26 92.72 L609.82 93.14 L610.38 93.56 L610.94 93.98 L611.51 94.39 L612.07 94.81 L612.63 95.24 L613.18 95.66 L613.73 96.10 L614.28 96.53 L614.81 96.98 L615.35 97.43 L615.89 97.88 L616.42 98.33 L616.96 98.79 L617.49 99.25 L618.01 99.72 L618.54 100.19 L619.05 100.67 L619.56 101.15 L620.07 101.63 L620.56 102.12 L621.05 102.62 L621.52 103.13 L621.99 103.64 L622.45 104.16 L622.91 104.69 L623.36 105.23 L623.80 105.77 L624.24 106.32 L624.67 106.88 L625.10 107.43 L625.52 108.00 L625.94 108.56 L626.36 109.12 L626.77 109.69 L627.18 110.25 L627.59 110.82 L628.00 111.39 L628.41 111.96 L628.81 112.54 L629.21 113.11 L629.60 113.70 L629.98 114.28 L630.36 114.87 L630.73 115.47 L631.08 116.07 L631.43 116.67 L631.77 117.28 L632.10 117.90 L632.43 118.52 L632.74 119.15 L633.06 119.78 L633.36 120.41 L633.65 121.05 L633.94 121.68 L634.21 122.32 L634.47 122.97 L634.73 123.62 L634.98 124.28 L635.22 124.94 L635.47 125.59 L635.71 126.25 L635.96 126.90 L636.22 127.56 L636.49 128.20 L636.76 128.85 L637.03 129.50 L637.29 130.15 L637.54 130.81 L637.76 131.47 L637.97 132.13 L638.16 132.80 L638.33 133.48 L638.50 134.15 L638.66 134.84 L638.82 135.52 L638.97 136.21 L639.11 136.89 L639.26 137.58 L639.41 138.27 L639.55 138.95 L639.71 139.63 L639.86 140.32 L640.01 141.00 L640.16 141.69 L640.31 142.37 L640.45 143.06 L640.58 143.74 L640.71 144.43 L640.83 145.12 L640.93 145.81 L641.03 146.50 L641.12 147.20 L641.21 147.89 L641.29 148.59 L641.37 149.28 L641.44 149.98 L641.52 150.68 L641.59 151.37 L641.66 152.07 L641.73 152.77 L641.79 153.46 L641.86 154.16 L641.93 154.86 L641.99 155.56 L642.05 156.25 L642.11 156.95 L642.17 157.65 L642.22 158.35 L642.28 159.04 L642.33 159.74 L642.39 160.44 L642.44 161.14 L642.49 161.84 L642.54 162.53 L642.59 163.23 L642.64 163.93 L642.68 164.63 L642.72 165.33 L642.76 166.03 L642.80 166.73 L642.84 167.42 L642.87 168.12 L642.91 168.82 L642.94 169.52 L642.98 170.22 L643.01 170.92 L643.04 171.62 L643.06 172.32 L643.08 173.02 L643.10 173.72 L643.12 174.42 L643.13 175.12 L643.15 175.82 L643.16 176.52 L643.18 177.22 L643.19 177.92 L643.20 178.62 L643.21 179.32 L643.22 180.02 L643.23 180.72 L643.24 181.42 L643.25 182.12 L643.26 182.82 L643.27 183.52 L643.28 184.22 L643.28 184.92 L643.29 185.62 L643.30 186.32 L643.30 187.02 L643.30 187.72 L643.31 188.42 L643.31 189.12 L643.32 189.82 L643.32 190.52 L643.32 191.22 L643.33 191.92 L643.33 192.62 L643.33 193.32 L643.34 194.02 L643.34 194.72 L643.34 195.42 L643.34 196.12" stroke="#ff7f0e" stroke-width="1.85" fill="none" stroke-dasharray="6.84 2.96" stroke-linejoin="round"/>
<path d="M643.35 199.40V251.40" stroke="#ff7f0e" stroke-width="1.85" fill="none" stroke-dasharray="6.80 2.95"/>
</g>
<rect x="409.60" y="18.90" width="274.70" height="232.50" fill="none" stroke="#000" stroke-width="0.99"/>
<rect x="607.97" y="24.76" width="70.16" height="39.80" rx="2.5" ry="2.5" fill="#fff" fill-opacity="0.8" stroke="#ccc" stroke-opacity="0.8" stroke-width="1.23"/>
<circle cx="625.24" cy="34.86" r="2.62" fill="#1f77b4"/>
<path d="M612.91 52.86H637.57" stroke="#ff7f0e" stroke-width="1.85" stroke-dasharray="6.84 2.96"/>
<text transform="translate(647.43 39.27) rotate(0.03) scale(0.9948 1)" x="0.19 9.52 18.41" y="0" font-size="12.76">DA0</text>
<text transform="translate(647.43 57.06) rotate(0.03) scale(0.9857 1)" x="0.23 9.65" y="0" font-size="12.76">DA</text>
<text transform="translate(458.48 11.40) rotate(0.03) scale(1.0523 1)" x="-0.10 11.09 14.67 22.65 28.17 33.61 37.55 46.35 55.69 60.87 64.56 73.35 82.03 86.55 95.63 100.05 104.42 115.05 124.97 129.70 133.57 142.38 151.28 160.13" y="0" font-size="15.31">Distribution of DA index</text>
<text transform="translate(468.67 287.60) rotate(0.03) scale(1.0401 1)" x="-0.18 9.05 16.87 28.21 35.57 43.28 47.62 51.47 59.10 62.81 67.07 78.36 81.57 89.48 93.45 101.32 109.12 113.23 119.42 123.05 128.04 131.19 138.51 146.40" y="0" font-size="12.76">Number of migrants (log)</text>
<text transform="translate(364.35 160.08) rotate(-90) scale(0.9711 1)" x="0.31 9.86 18.46 22.53 27.80 31.32 39.15 47.48" y="0" font-size="12.76">DA (log)</text>
<text transform="translate(411.51 269.95) rotate(0.03) scale(0.9968 1)" x="0.32 8.25" y="0" font-size="12.76">10</text>
<text transform="translate(427.20 265.35) rotate(0.03) scale(1.0185 1)" x="0.21" y="0" font-size="8.93">0</text>
<text transform="translate(482.56 269.95) rotate(0.03) scale(0.9968 1)" x="0.32 8.25" y="0" font-size="12.76">10</text>
<text transform="translate(498.25 265.35) rotate(0.03) scale(0.9727 1)" x="0.29" y="0" font-size="8.93">1</text>
<text transform="translate(553.61 269.95) rotate(0.03) scale(0.9968 1)" x="0.32 8.25" y="0" font-size="12.76">10</text>
<text transform="translate(569.30 265.35) rotate(0.03) scale(0.9817 1)" x="0.19" y="0" font-size="8.93">2</text>
<text transform="translate(624.66 269.95) rotate(0.03) scale(0.9968 1)" x="0.32 8.25" y="0" font-size="12.76">10</text>
<text transform="translate(640.35 265.35) rotate(0.03) scale(0.9781 1)" x="0.33" y="0" font-size="8.93">3</text>
<text transform="translate(378.92 33.85) rotate(0.03) scale(0.9968 1)" x="0.32 8.25" y="0" font-size="12.76">10</text>
<text transform="translate(394.61 29.25) rotate(0.03) scale(1.0185 1)" x="0.21" y="0" font-size="8.93">0</text>
<text transform="translate(371.69 92.33) rotate(0.03) scale(0.9968 1)" x="0.32 8.25" y="0" font-size="12.76">10</text>
<text transform="translate(387.38 87.73) rotate(0.03) scale(1.1169 1)" x="0.63 6.39" y="0" font-size="8.93">−1</text>
<text transform="translate(371.69 150.81) rotate(0.03) scale(0.9968 1)" x="0.32 8.25" y="0" font-size="12.76">10</text>
<text transform="translate(387.38 146.21) rotate(0.03) scale(1.1175 1)" x="0.63 6.34" y="0" font-size="8.93">−2</text>
<text transform="translate(371.69 209.29) rotate(0.03) scale(0.9968 1)" x="0.32 8.25" y="0" font-size="12.76">10</text>
<text transform="translate(387.38 204.69) rotate(0.03) scale(1.1131 1)" x="0.64 6.49" y="0" font-size="8.93">−3</text>
</g>
</svg>
</body></html>
